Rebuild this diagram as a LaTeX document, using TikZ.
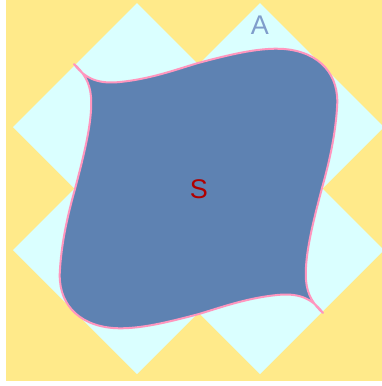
\documentclass[tikz,border=0pt]{standalone}
\usepackage{fontspec}
\setsansfont{Liberation Sans}
\usepackage{xcolor}
\usepackage{tikz}
\usetikzlibrary{positioning}

\definecolor{bgyellow}{HTML}{FFEA8A}
\definecolor{lightcyan}{HTML}{DAFFFF}
\definecolor{setblue}{HTML}{5E82B2}
\definecolor{edgepink}{HTML}{FF96BE}
\definecolor{labelred}{HTML}{B00000}
\definecolor{labelblue}{HTML}{7F9DCB}

\begin{document}
\begin{tikzpicture}[
    x=1pt, y=-1pt,
    diamond/.style={fill=lightcyan, draw=none},
    region/.style={fill=setblue, draw=edgepink, line width=2pt, line join=round},
    setlabel/.style={font=\sffamily\fontsize{27}{30}\selectfont},
]
\useasboundingbox (0, 0) rectangle (382, 386);

% ===== Background =====
\fill[bgyellow] (6, 0) rectangle (382, 381);

% ===== Set A: four diamonds =====
\foreach \cx in {137, 260} {
    \foreach \cy in {127, 250} {
        \path[diamond] (\cx-124, \cy) -- (\cx, \cy-124) -- (\cx+124, \cy) -- (\cx, \cy+124) -- cycle;
    }
}
\node[setlabel, text=labelblue] (labelA) at (260, 25) {A};

% ===== Set S: curved region =====
\draw[region] (74, 64)
    .. controls (86, 80) and (100, 84) .. (120, 82)
    .. controls (150, 79) and (175, 70) .. (198, 63)
    .. controls (225, 56) and (258, 47) .. (284, 49)
    .. controls (320, 52) and (340, 75) .. (337, 108)
    .. controls (335, 140) and (327, 170) .. (322, 188)
    .. controls (315, 215) and (304, 255) .. (306, 280)
    .. controls (307, 295) and (314, 305) .. (323, 313)
    .. controls (311, 297) and (297, 293) .. (277, 295)
    .. controls (247, 298) and (222, 307) .. (199, 314)
    .. controls (172, 321) and (139, 330) .. (113, 328)
    .. controls (77, 325) and (57, 302) .. (60, 269)
    .. controls (62, 237) and (70, 207) .. (75, 189)
    .. controls (82, 162) and (93, 122) .. (91, 97)
    .. controls (90, 82) and (83, 72) .. (74, 64)
    -- cycle;
\node[setlabel, text=labelred] (labelS) at (199, 189) {S};

\end{tikzpicture}
\end{document}
